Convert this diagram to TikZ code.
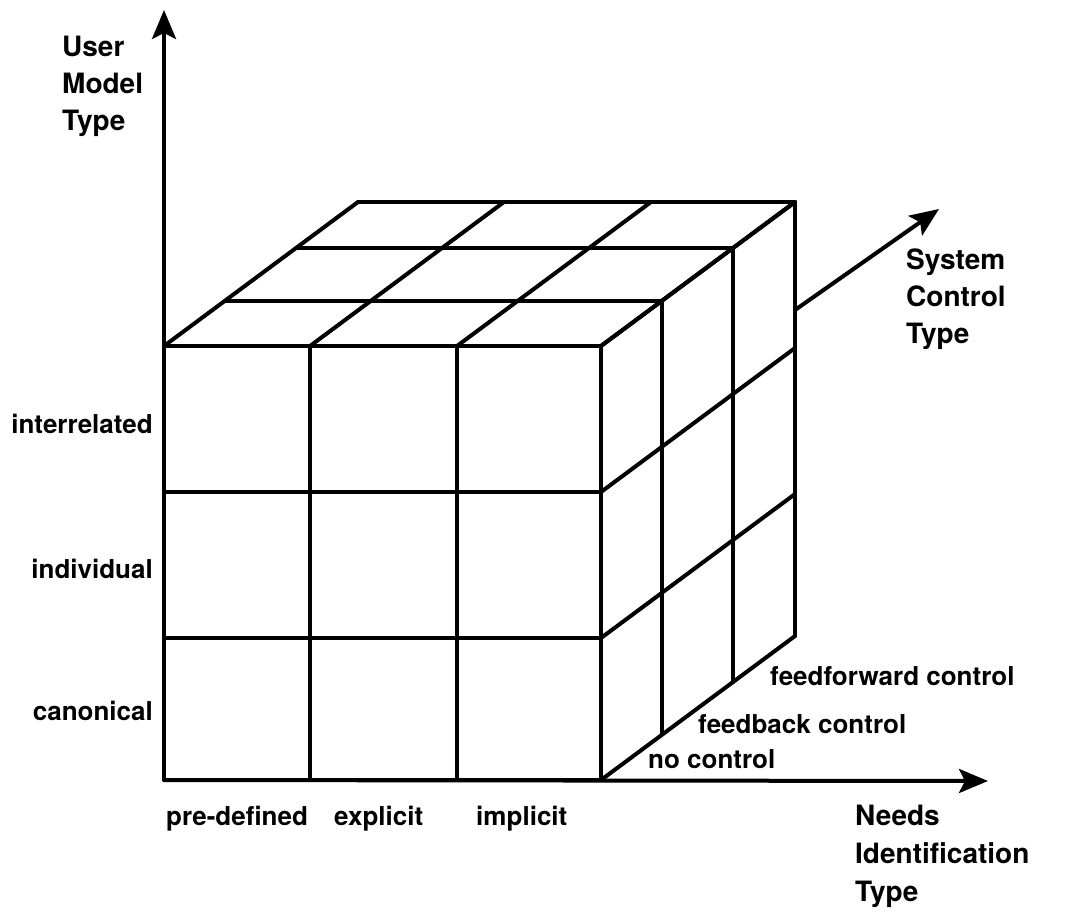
\documentclass[tikz,border=0pt]{standalone}
\usepackage{fontspec}
\setmainfont{TeX Gyre Heros}
\usetikzlibrary{arrows.meta}
\begin{document}
\begin{tikzpicture}[x=1pt,y=-1pt,
  grid/.style={line width=4pt,line cap=round,line join=round},
  axis/.style={line width=4pt,-{Stealth[length=29pt,width=24pt,inset=6pt]}},
  lbl/.style={inner sep=0pt,font=\fontsize{26}{30}\selectfont\bfseries},
  ttl/.style={inner sep=0pt,font=\fontsize{28}{32}\selectfont\bfseries}]
\useasboundingbox (0,0) rectangle (1067,911);

% depth direction of the cube
\def\DX{194}\def\DY{-144}

% front face
\foreach \x in {164,310,457,601}
  \draw[grid] (\x,346) -- (\x,780);
\foreach \y in {346,492,638,780}
  \draw[grid] (164,\y) -- (601,\y);

% top face: rows at each depth layer, and edges running back
\foreach \t in {0.315,0.68,1}
  \draw[grid] (164+\t*\DX,346+\t*\DY) -- (601+\t*\DX,346+\t*\DY);
\foreach \x in {164,310,457,601}
  \draw[grid] (\x,346) -- (\x+\DX,346+\DY);

% right face: verticals at each depth layer, and edges running back
\foreach \t in {0.315,0.68,1}
  \draw[grid] (601+\t*\DX,346+\t*\DY) -- (601+\t*\DX,780+\t*\DY);
\foreach \y in {346,492,638,780}
  \draw[grid] (601,\y) -- (601+\DX,\y+\DY);

% axes
\coordinate (origin) at (164,780);
\coordinate (umtip) at (164,10);
\coordinate (nitip) at (988,781);
\coordinate (scbase) at (795,310);
\coordinate (sctip) at (939,209);
\draw[axis] (origin) -- (umtip);
\draw[axis] (origin) -- (nitip);
\draw[axis] (scbase) -- (sctip);

% axis titles
\node[ttl,anchor=base west] (um1) at (62,56) {User};
\node[ttl,anchor=base west] (um2) at (62,93) {Model};
\node[ttl,anchor=base west] (um3) at (62,130) {Type};

\node[ttl,anchor=base west] (sc1) at (906,269) {System};
\node[ttl,anchor=base west] (sc2) at (906,306) {Control};
\node[ttl,anchor=base west] (sc3) at (906,343) {Type};

\node[ttl,anchor=base west] (ni1) at (855,825) {Needs};
\node[ttl,anchor=base west] (ni2) at (855,863) {Identification};
\node[ttl,anchor=base west] (ni3) at (855,901) {Type};

% user model values
\node[lbl,anchor=base east] (inter) at (153,433) {interrelated};
\node[lbl,anchor=base east] (indiv) at (153,578) {individual};
\node[lbl,anchor=base east] (canon) at (153,720) {canonical};

% needs identification values
\node[lbl,anchor=base west] (pre) at (166,825) {pre-defined};
\node[lbl,anchor=base west] (expl) at (334,825) {explicit};
\node[lbl,anchor=base west] (impl) at (476,825) {implicit};

% system control values
\node[lbl,anchor=base west] (ffc) at (770,685) {feedforward control};
\node[lbl,anchor=base west] (fbc) at (698,733) {feedback control};
\node[lbl,anchor=base west] (noc) at (648,768) {no control};
\end{tikzpicture}
\end{document}
